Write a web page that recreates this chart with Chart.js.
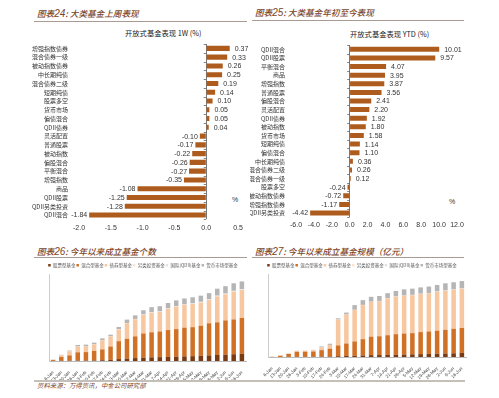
<!DOCTYPE html>
<html>
<head>
<meta charset="utf-8">
<script src="https://cdn.jsdelivr.net/npm/chart.js@4.4.0/dist/chart.umd.min.js"></script>
<style>
  body { margin:0; background:#fff; }
  #page { position:relative; width:499px; height:398px; overflow:hidden; font-family:"Noto Sans CJK SC", sans-serif; }
  canvas { position:absolute; }
  .title { position:absolute; font-size:8.6px; font-style:italic; font-weight:500; color:#7b4528; white-space:nowrap; }
  .title b { font-family:"Liberation Sans", Arial, sans-serif; font-size:10px; font-weight:normal; }
  .sub { position:absolute; font-size:7.3px; color:#222; white-space:nowrap; }
  .line { position:absolute; border-top:1px solid #a99b92; }
  .pct { position:absolute; font-size:7px; color:#333; font-family:"Liberation Sans", Arial, sans-serif; }
  .src { position:absolute; font-size:6.4px; font-style:italic; color:#7b4528; white-space:nowrap; }
</style>
</head>
<body>
<div id="page">
  <div class="title" style="left:37px;top:7px;">图表<b>24</b>: 大类基金上周表现</div>
  <div class="line" style="left:34px;top:21px;width:213px;"></div>
  <div class="title" style="left:255px;top:6px;">图表<b>25</b>: 大类基金年初至今表现</div>
  <div class="line" style="left:252px;top:20px;width:212px;"></div>
  <div class="sub" style="left:125px;top:28px;">开放式基金表现 1W (%)</div>
  <div class="sub" style="left:350px;top:29px;">开放式基金表现 YTD (%)</div>
  <div class="pct" style="left:232px;top:196px;">%</div>
  <div class="pct" style="left:449px;top:198px;">%</div>
  <div class="title" style="left:37px;top:245px;">图表<b>26</b>: 今年以来成立基金个数</div>
  <div class="line" style="left:34px;top:257px;width:213px;"></div>
  <div class="title" style="left:255px;top:245px;">图表<b>27</b>: 今年以来成立基金规模（亿元）</div>
  <div class="line" style="left:252px;top:257px;width:212px;"></div>
  <div class="line" style="left:34px;top:380px;width:431px;border-top:2px solid #c5bfba;"></div>
  <div class="src" style="left:37px;top:381px;">资料来源：万得资讯，中金公司研究部</div>

  <canvas id="c1" width="250" height="240" style="left:0;top:0;"></canvas>
  <canvas id="c2" width="249" height="240" style="left:250px;top:0;"></canvas>
  <canvas id="c3" width="250" height="118" style="left:0;top:262px;"></canvas>
  <canvas id="c4" width="249" height="118" style="left:250px;top:262px;"></canvas>
</div>
<script>
// 上周表现 1W (%)
const weekCats = ['增强指数债券','混合债券一级','被动指数债券','中长期纯债','混合债券二级','短期纯债','股票多空','货币市场','偏债混合','QDII债券','灵活配置','普通股票','被动指数','偏股混合','平衡混合','增强指数','商品','QDII股票','QDII另类投资','QDII混合'];
const weekVals = [0.37,0.33,0.26,0.25,0.19,0.14,0.10,0.05,0.05,0.04,-0.10,-0.17,-0.22,-0.26,-0.27,-0.35,-1.08,-1.25,-1.28,-1.84];

// 年初至今 YTD (%)
const ytdCats = ['QDII混合','QDII股票','平衡混合','商品','增强指数','普通股票','偏股混合','灵活配置','QDII债券','被动指数','货币市场','短期纯债','偏债混合','中长期纯债','混合债券二级','混合债券一级','股票多空','被动指数债券','增强指数债券','QDII另类投资'];
const ytdVals = [10.01,9.57,4.07,3.95,3.87,3.56,2.41,2.20,1.92,1.80,1.58,1.14,1.10,0.36,0.26,0.12,-0.24,-0.72,-1.17,-4.42];

// 今年以来成立基金
const dates = ['6-Jan','13-Jan','20-Jan','26-Jan','3-Feb','10-Feb','17-Feb','24-Feb','3-Mar','10-Mar','17-Mar','24-Mar','31-Mar','7-Apr','14-Apr','21-Apr','28-Apr','5-May','12-May','19-May','26-May','2-Jun','9-Jun','16-Jun'];
const fundTypes = ['股票型基金','混合型基金','债券型基金','另类投资基金','国际(QDII)基金','货币市场型基金'];

// 个数
const cntStock = [1,2,3,4,4,5,8,12,20,25,30,35,38,40,42,45,48,50,55,58,62,66,70,75];
const cntMixed = [9,40,55,86,88,100,112,138,185,205,225,250,259,265,278,285,297,300,310,332,338,354,360,370];
const cntBond  = [4,18,42,60,60,67,95,102,120,160,177,193,203,203,220,232,235,240,240,240,268,270,288,290];
const cntAlt   = [0,0,0,0,0,0,1,1,1,1,1,1,2,2,2,2,2,2,3,3,3,3,3,3];
const cntQdii  = [0,0,1,1,1,1,1,1,2,2,2,3,3,3,3,3,3,4,4,4,5,5,5,5];
const cntMoney = [2,4,7,15,16,17,17,18,24,35,37,43,52,54,55,60,62,63,64,65,72,76,78,80];

// 规模（亿元）
const amtStock = [0,0,5,10,10,15,20,25,40,50,60,75,90,95,100,110,120,130,140,150,160,170,180,200];
const amtMixed = [10,60,145,240,245,250,310,375,520,600,690,785,890,905,950,990,1010,1020,1060,1080,1110,1140,1180,1200];
const amtBond  = [5,15,15,40,41,65,130,180,1240,1390,1520,1640,1670,1690,1770,1810,1820,1830,1835,1840,1870,1880,1880,1890];
const amtAlt   = [0,0,0,0,0,0,2,2,3,3,3,4,5,5,5,5,5,6,6,6,7,7,7,7];
const amtQdii  = [0,0,1,1,1,1,1,1,3,3,3,6,6,6,6,6,6,8,8,8,10,10,10,10];
const amtMoney = [3,5,5,9,9,14,47,57,60,94,224,230,239,240,245,259,299,300,305,310,315,343,345,353];

const typeColors = ['#7a3b12','#d07126','#f7c7a0','#fbe5d2','#e3e3e3','#b5b5b5'];
const barColor = '#ad5c1e';
const numFont = {family:'"Liberation Sans", Arial, sans-serif', size:7};

// 柱子两端的数值
const valueLabels = {
  id: 'valueLabels',
  afterDatasetsDraw(chart) {
    const ctx = chart.ctx;
    const data = chart.data.datasets[0].data;
    ctx.save();
    ctx.font = '7px "Liberation Sans", Arial, sans-serif';
    ctx.fillStyle = '#333';
    ctx.textBaseline = 'middle';
    chart.getDatasetMeta(0).data.forEach((bar, i) => {
      const v = data[i];
      ctx.textAlign = v >= 0 ? 'left' : 'right';
      ctx.fillText(v.toFixed(2), bar.x + (v >= 0 ? 5 : -2), bar.y + 0.5);
    });
    ctx.restore();
  }
};

// 零轴上的小刻度
const zeroTicks = {
  id: 'zeroTicks',
  afterDraw(chart) {
    const ctx = chart.ctx, ys = chart.scales.y;
    const x0 = chart.scales.x.getPixelForValue(0);
    const n = chart.data.labels.length, step = (ys.bottom - ys.top) / n;
    ctx.save();
    ctx.strokeStyle = '#666';
    ctx.lineWidth = 0.8;
    ctx.beginPath();
    for (let i = 0; i <= n; i++) {
      const y = Math.round(ys.top + i * step) + 0.5;
      ctx.moveTo(x0 - 2.5, y);
      ctx.lineTo(x0, y);
    }
    ctx.stroke();
    ctx.restore();
  }
};

function hbar(id, cats, vals, min, max, step, pad, yWidth, xHeight) {
  return new Chart(document.getElementById(id), {
    type: 'bar',
    data: { labels: cats, datasets: [{ data: vals, backgroundColor: barColor, barPercentage: 0.58, categoryPercentage: 1 }] },
    options: {
      indexAxis: 'y', responsive: false, animation: false,
      layout: { padding: pad },
      plugins: { legend: { display: false }, tooltip: { enabled: false } },
      scales: {
        x: {
          min: min, max: max,
          afterFit: s => { s.height = xHeight; },
          border: { display: false },
          grid: { drawTicks: false, lineWidth: 0.8, color: c => c.tick && c.tick.value === 0 ? '#555' : 'rgba(0,0,0,0)' },
          ticks: { stepSize: step, padding: 4, maxRotation: 0, minRotation: 0, autoSkip: false, color: '#333', font: numFont, callback: v => v.toFixed(1) }
        },
        y: {
          afterFit: s => { s.width = yWidth; },
          border: { display: false },
          grid: { display: false },
          ticks: { padding: 3, color: '#333', autoSkip: false, font: { family: '"Noto Sans CJK SC", sans-serif', size: 6 } }
        }
      }
    },
    plugins: [valueLabels, zeroTicks]
  });
}

hbar('c1', weekCats, weekVals, -2, 0.5, 0.5, { top: 44, right: 12, left: 0, bottom: 0 }, 79, 20.6);
hbar('c2', ytdCats, ytdVals, -6, 12, 2, { top: 45, right: 42, left: 0, bottom: 0 }, 46, 22.7);

function stacked(id, series, max, step, pad, yWidth, xHeight) {
  return new Chart(document.getElementById(id), {
    type: 'bar',
    data: {
      labels: dates,
      datasets: series.map((d, i) => ({ label: fundTypes[i], data: d, backgroundColor: typeColors[i], barPercentage: 0.55, categoryPercentage: 1 }))
    },
    options: {
      responsive: false, animation: false,
      layout: { padding: pad },
      plugins: {
        tooltip: { enabled: false },
        legend: {
          position: 'top', maxHeight: 12,
          labels: { boxWidth: 2.5, boxHeight: 2.5, padding: 1, color: '#555', font: { family: '"Noto Sans CJK SC", sans-serif', size: 4.5 } }
        }
      },
      scales: {
        x: {
          stacked: true,
          afterFit: s => { s.height = xHeight; },
          border: { color: '#bbb' },
          grid: { display: false },
          ticks: { autoSkip: false, minRotation: 45, maxRotation: 45, padding: 1, color: '#444', font: { family: '"Liberation Sans", Arial, sans-serif', size: 4.5 } }
        },
        y: {
          stacked: true, min: 0, max: max,
          afterFit: s => { s.width = yWidth; },
          border: { color: '#ccc' },
          grid: { display: false },
          ticks: { stepSize: step, padding: 3, color: '#444', font: { family: '"Liberation Sans", Arial, sans-serif', size: 4.5 } }
        }
      }
    }
  });
}

stacked('c3', [cntStock, cntMixed, cntBond, cntAlt, cntQdii, cntMoney], 900, 100, { top: 0, right: 4, left: 40, bottom: 0 }, 9, 19);
stacked('c4', [amtStock, amtMixed, amtBond, amtAlt, amtQdii, amtMoney], 4000, 500, { top: 0, right: 33, left: 8, bottom: 0 }, 10, 23);
</script>
</body>
</html>
